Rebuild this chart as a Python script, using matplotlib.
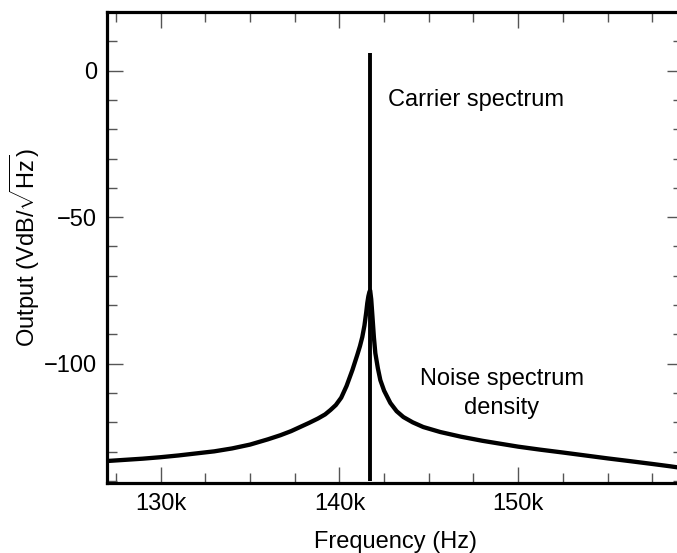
import matplotlib
matplotlib.use("Agg")
import matplotlib.pyplot as plt
from matplotlib.ticker import MultipleLocator, FuncFormatter

plt.rcParams["font.family"] = ["Liberation Sans", "DejaVu Sans"]
plt.rcParams["mathtext.fontset"] = "custom"
plt.rcParams["mathtext.rm"] = "Liberation Sans"

# noise spectrum density (kHz, VdB/sqrt(Hz))
noise_freq_k = [127.0, 128.0, 129.0, 130.0, 131.0, 132.0, 133.0, 134.0, 135.0,
                136.0, 136.7, 137.3, 137.8, 138.3, 138.8, 139.2, 139.5, 139.8,
                140.1, 140.4, 140.73, 141.0, 141.15, 141.28, 141.4, 141.5,
                141.56, 141.62, 141.68, 141.72,
                141.78, 141.85, 141.93, 142.01, 142.15, 142.29, 142.5, 142.85,
                143.2, 143.58, 144.1, 144.69, 145.64, 146.8, 148.0, 149.0,
                150.0, 151.2, 152.5, 153.5, 155.0, 156.2, 157.5, 158.5, 159.3]
noise_out = [-133.2, -132.8, -132.4, -131.9, -131.3, -130.6, -129.9, -128.9, -127.6,
             -125.8, -124.4, -123.0, -121.6, -120.2, -118.7, -117.3, -115.8, -114.1,
             -111.6, -107.6, -102.1, -97.0, -94.0, -90.9, -87.0, -82.5,
             -79.3, -77.0, -75.5, -75.0,
             -78.0, -84.0, -91.0, -96.4, -101.5, -105.6, -109.2, -113.4,
             -116.2, -118.2, -120.0, -121.6, -123.3, -124.9, -126.3, -127.3,
             -128.3, -129.3, -130.3, -131.1, -132.3, -133.2, -134.2, -135.0, -135.7]

# carrier line
carrier_freq_k = 141.73
carrier_range = [-140.0, 6.0]

xticks_k = [130, 140, 150]


def main():
    fig = plt.figure(figsize=(6.77, 5.53), dpi=100)
    ax = fig.add_axes([107 / 677, 70 / 553, 576 / 677, 471 / 553])

    ax.plot([f * 1000 for f in noise_freq_k], noise_out, color="black", lw=3.1,
            solid_joinstyle="round", zorder=3)
    ax.plot([carrier_freq_k * 1000] * 2, carrier_range, color="black", lw=2.8,
            solid_capstyle="butt", zorder=3)

    ax.set_xlim(127000, 159220)
    ax.set_ylim(-140.7, 20)

    ax.set_xticks([f * 1000 for f in xticks_k])
    ax.xaxis.set_major_formatter(FuncFormatter(lambda v, p: f"{v / 1000:.0f}k"))
    ax.xaxis.set_minor_locator(MultipleLocator(2500))
    ax.yaxis.set_major_locator(MultipleLocator(50))
    ax.yaxis.set_minor_locator(MultipleLocator(10))

    ax.tick_params(which="both", direction="in", top=True, right=True,
                   color="#555555", width=1.0, labelsize=17, pad=7)
    ax.tick_params(which="major", length=11.5)
    ax.tick_params(which="minor", length=7.5)

    for sp in ax.spines.values():
        sp.set_linewidth(2.3)

    ax.set_xlabel("Frequency (Hz)", fontsize=17)
    ax.set_ylabel(r"Output (VdB/$\sqrt{\mathrm{Hz}}$)", fontsize=17)
    ax.xaxis.set_label_coords(0.5, -0.125)
    ax.yaxis.set_label_coords(-0.142, 0.5)
    ax.xaxis.label.set_va("center")
    ax.yaxis.label.set_va("center")

    ax.text(142740, -10, "Carrier spectrum", fontsize=17, ha="left", va="center")
    ax.text(149080, -110.3, "Noise spectrum\ndensity", fontsize=17, ha="center",
            va="center", linespacing=1.4)

    fig.savefig("out.png", dpi=100)


if __name__ == "__main__":
    main()
